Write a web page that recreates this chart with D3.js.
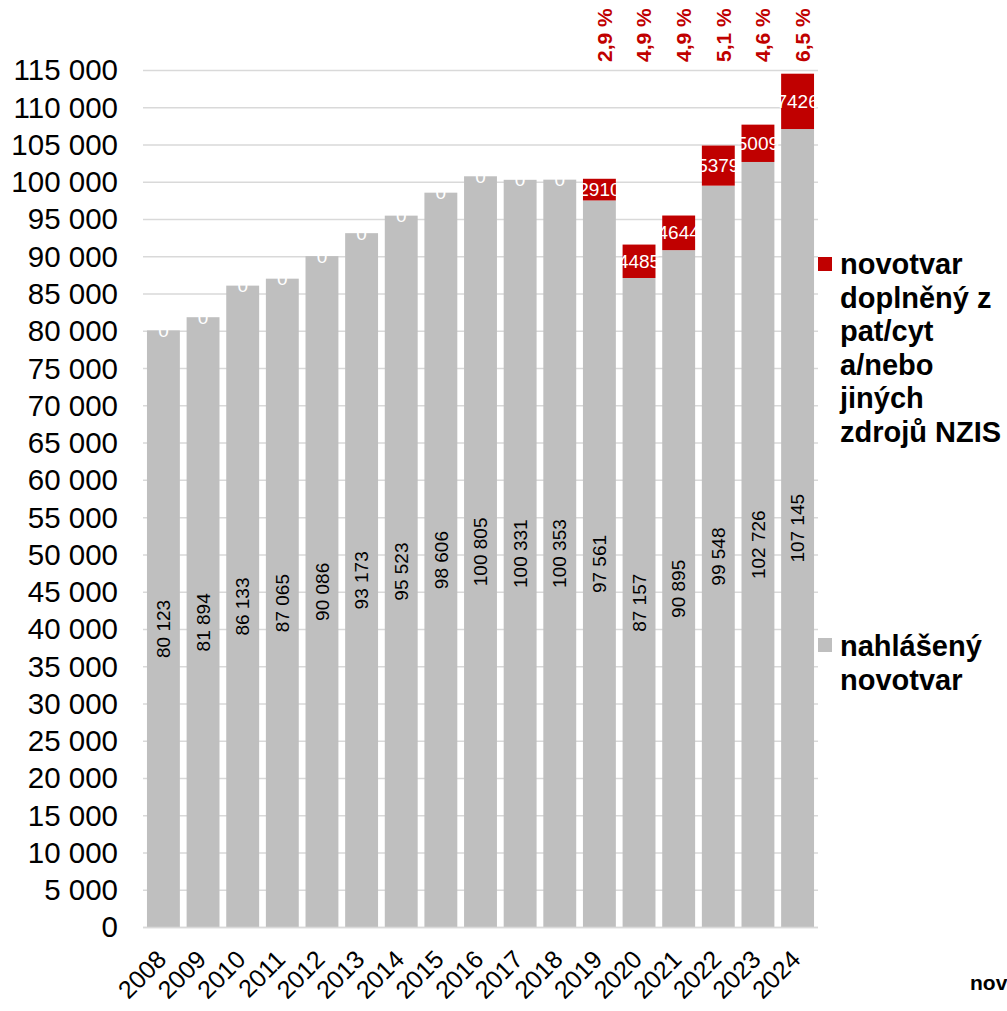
<!DOCTYPE html>
<html>
<head>
<meta charset="utf-8">
<script src="https://cdn.jsdelivr.net/npm/d3@7"></script>
<style>
  html, body { margin: 0; padding: 0; background: #fff; overflow: hidden; }
  svg { display: block; font-family: "Liberation Sans", Arial, sans-serif; }
</style>
</head>
<body>
<svg id="chart" width="1007" height="1011"></svg>
<script>
const years = ["2008","2009","2010","2011","2012","2013","2014","2015","2016","2017","2018","2019","2020","2021","2022","2023","2024"];
const reported = [80123, 81894, 86133, 87065, 90086, 93173, 95523, 98606, 100805, 100331, 100353, 97561, 87157, 90895, 99548, 102726, 107145];
const supplemented = [0, 0, 0, 0, 0, 0, 0, 0, 0, 0, 0, 2910, 4485, 4644, 5379, 5009, 7426];
const percentLabels = ["", "", "", "", "", "", "", "", "", "", "", "2,9 %", "4,9 %", "4,9 %", "5,1 %", "4,6 %", "6,5 %"];
const yTicks = d3.range(0, 115001, 5000);
const legendRed = ["novotvar", "doplněný z", "pat/cyt", "a/nebo", "jiných", "zdrojů NZIS"];
const legendGray = ["nahlášený", "novotvar"];
const cornerText = "nov";

const GRAY = "#bfbfbf", RED = "#c00000", GRID = "#d9d9d9";
const svg = d3.select("#chart");

const x = d3.scaleBand().domain(years).range([143.6, 817.4]).paddingInner(0.17).paddingOuter(0.085);
const y = d3.scaleLinear().domain([0, 115000]).range([927.5, 70.5]);

const fmt = v => d3.format(",")(v).replace(/,/g, " ");

// gridlines
svg.append("g").selectAll("line").data(yTicks).join("line")
  .attr("x1", 143).attr("x2", 818)
  .attr("y1", d => y(d)).attr("y2", d => y(d))
  .attr("stroke", GRID).attr("stroke-width", 1.5);

// y axis labels
const yAxis = d3.axisLeft(y).tickValues(yTicks).tickSize(0).tickPadding(0).tickFormat(fmt);
const gy = svg.append("g").attr("transform", "translate(118,0)").call(yAxis);
gy.select(".domain").remove();
gy.selectAll("text").attr("font-size", 29.5).attr("fill", "#000")
  .attr("font-family", "'Liberation Sans', Arial, sans-serif");

const data = years.map((yr, i) => ({ yr, rep: reported[i], sup: supplemented[i], pct: percentLabels[i] }));

// bars reported
svg.append("g").selectAll("rect").data(data).join("rect")
  .attr("x", d => x(d.yr)).attr("width", x.bandwidth())
  .attr("y", d => y(d.rep)).attr("height", d => y(0) - y(d.rep))
  .attr("fill", GRAY);

// bars supplemented
svg.append("g").selectAll("rect").data(data.filter(d => d.sup > 0)).join("rect")
  .attr("x", d => x(d.yr)).attr("width", x.bandwidth())
  .attr("y", d => y(d.rep + d.sup)).attr("height", d => y(d.rep) - y(d.rep + d.sup))
  .attr("fill", RED);

// axis baseline
svg.append("line").attr("x1", 143).attr("x2", 818).attr("y1", y(0)).attr("y2", y(0))
  .attr("stroke", GRID).attr("stroke-width", 1.5);

// reported value labels (rotated)
svg.append("g").selectAll("text").data(data).join("text")
  .attr("transform", d => `translate(${x(d.yr) + x.bandwidth() / 2},${(y(d.rep) + y(0)) / 2}) rotate(-90)`)
  .attr("text-anchor", "middle").attr("dy", "0.35em")
  .attr("font-size", 19).attr("fill", "#000")
  .text(d => fmt(d.rep));

// supplemented value labels
svg.append("g").selectAll("text").data(data).join("text")
  .attr("x", d => x(d.yr) + x.bandwidth() / 2)
  .attr("y", d => (y(d.rep) + y(d.rep + d.sup)) / 2)
  .attr("text-anchor", "middle").attr("dy", "0.35em")
  .attr("font-size", 19).attr("fill", "#fff")
  .text(d => d.sup);

// percentage labels
svg.append("g").selectAll("text").data(data.filter(d => d.pct)).join("text")
  .attr("transform", d => `translate(${x(d.yr) + x.bandwidth() / 2 + 5},62) rotate(-90)`)
  .attr("text-anchor", "start").attr("dy", "0.35em")
  .attr("font-size", 21).attr("font-weight", "bold").attr("fill", RED)
  .text(d => d.pct);

// x labels
svg.append("g").selectAll("text").data(years).join("text")
  .attr("transform", d => `translate(${x(d) + x.bandwidth() / 2 + 4.5},961) rotate(-45)`)
  .attr("text-anchor", "end")
  .attr("font-size", 25).attr("fill", "#000")
  .text(d => d);

// legend
const leg = svg.append("g");
leg.append("rect").attr("x", 818).attr("y", 257).attr("width", 14).attr("height", 14).attr("fill", RED);
leg.append("g").selectAll("text").data(legendRed).join("text")
  .attr("x", 840).attr("y", (d, i) => 274 + i * 33.6)
  .attr("font-size", 29).attr("font-weight", "bold").attr("fill", "#000")
  .text(d => d);
leg.append("rect").attr("x", 818).attr("y", 638).attr("width", 14).attr("height", 14).attr("fill", GRAY);
leg.append("g").selectAll("text").data(legendGray).join("text")
  .attr("x", 840).attr("y", (d, i) => 656 + i * 34)
  .attr("font-size", 29).attr("font-weight", "bold").attr("fill", "#000")
  .text(d => d);

svg.append("text").attr("x", 970).attr("y", 990)
  .attr("font-size", 21).attr("font-weight", "bold").attr("fill", "#000")
  .text(cornerText);
</script>
</body>
</html>
